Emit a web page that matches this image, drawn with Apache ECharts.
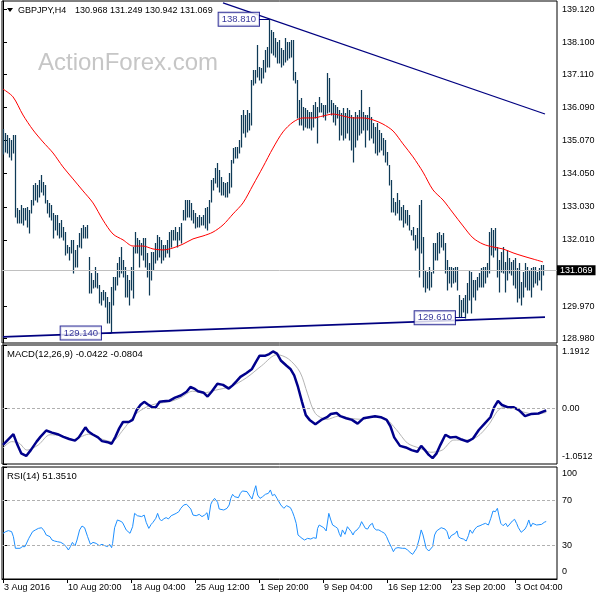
<!DOCTYPE html>
<html><head><meta charset="utf-8">
<script src="https://cdn.jsdelivr.net/npm/echarts@6/dist/echarts.min.js"></script>
<style>html,body{margin:0;padding:0;background:#fff}#c{width:600px;height:600px}</style>
</head><body><div id="c"></div>
<script>
// ---------------- data ----------------
const symbolName = 'GBPJPY,H4';
const lastOHLC = [130.968, 131.249, 130.942, 131.069];
const timeTickIdx = [0, 32, 64, 96, 128, 160, 192, 224, 256];
const timeTickLabels = ['3 Aug 2016', '10 Aug 20:00', '18 Aug 04:00', '25 Aug 12:00', '1 Sep 20:00', '9 Sep 04:00', '16 Sep 12:00', '23 Sep 20:00', '3 Oct 04:00'];
const priceTicks = [139.12, 138.10, 137.11, 136.09, 135.07, 134.05, 133.03, 132.01, 129.97, 128.98];
const currentPrice = 131.069;

const highs = [
135.43,135.31,135.24,135.15,135.09,135.24,135.24,132.99,132.93,133.09,
132.99,132.99,133.02,132.93,133.24,133.70,133.76,133.70,133.86,134.01,
133.80,133.70,133.24,133.15,133.09,132.84,132.78,132.78,132.53,132.62,
132.41,132.25,131.85,131.79,132.01,132.01,131.70,131.85,132.22,132.38,
132.47,132.41,132.47,131.48,130.99,130.77,131.17,130.99,130.62,130.40,
130.46,130.40,130.25,130.09,130.56,130.87,130.87,131.30,131.48,131.79,
131.39,131.17,130.93,130.77,131.17,131.79,132.25,132.07,132.01,131.91,
132.07,132.07,131.61,131.30,131.64,131.64,131.91,132.16,132.10,132.01,
131.85,131.85,132.01,132.25,132.32,132.32,132.41,132.25,132.41,132.53,
132.93,133.24,133.24,133.24,133.15,132.93,132.84,132.72,132.78,132.72,
132.78,132.99,133.02,133.24,133.86,133.92,134.23,134.38,134.17,133.95,
133.80,133.76,133.80,134.07,134.47,134.84,134.87,134.87,135.09,135.86,
136.02,135.86,136.02,135.92,136.94,137.25,137.25,138.02,137.34,137.31,
137.56,137.87,137.96,138.81,138.48,138.42,138.23,138.11,138.17,137.93,
137.87,138.23,138.11,138.11,138.17,138.17,137.19,136.94,136.32,136.39,
136.11,136.08,136.02,135.95,135.95,136.17,136.26,136.11,136.42,136.23,
136.17,136.17,137.16,137.00,136.32,136.23,136.17,136.11,136.02,135.92,
136.08,135.92,136.08,136.02,135.86,135.80,135.95,135.86,136.02,136.63,
135.95,135.86,135.86,136.11,135.80,135.61,135.49,135.61,135.40,135.31,
135.15,135.09,134.72,134.32,133.86,133.30,133.18,133.46,133.24,133.02,
133.09,132.93,132.93,132.78,132.32,132.41,132.16,132.38,133.09,133.24,
132.10,131.08,131.02,131.17,131.02,131.91,131.91,132.22,132.25,132.16,
132.22,131.91,131.39,131.17,131.17,131.14,131.17,131.17,130.31,130.16,
130.22,130.31,130.68,131.08,131.02,130.77,130.77,130.87,130.99,131.14,
131.17,131.17,131.30,132.25,132.38,132.32,132.38,131.79,131.39,131.64,
131.79,131.33,131.70,131.45,131.33,131.39,131.45,131.14,131.30,130.71,
131.02,131.30,131.17,131.08,131.14,131.17,131.17,131.02,131.14,131.24,131.249];

const lows = [
134.66,134.72,134.69,134.57,134.47,134.69,132.72,132.53,132.53,132.53,
132.47,132.62,132.41,132.22,132.84,133.09,133.24,133.18,133.33,133.49,
133.39,133.15,132.84,132.72,132.62,132.07,132.32,132.16,132.07,132.10,
132.01,131.54,131.61,131.39,131.61,130.99,131.17,131.17,131.79,131.76,
132.07,132.07,132.07,130.37,130.37,130.53,130.56,130.53,130.06,130.00,
130.16,129.94,129.45,129.45,129.14,130.00,130.46,130.62,130.87,130.99,
130.87,130.25,130.25,130.00,130.46,130.22,131.61,131.61,131.17,131.54,
131.39,131.17,130.87,130.31,130.77,131.08,131.30,131.39,131.48,131.30,
131.39,131.48,131.61,131.48,131.79,132.01,132.01,131.79,132.01,131.91,
132.62,132.62,132.72,132.72,132.62,132.53,132.38,132.41,132.41,132.47,
132.47,132.38,132.32,132.53,133.18,133.55,133.76,133.64,133.49,133.39,
133.39,133.33,133.33,133.46,133.64,134.38,134.54,134.54,134.69,134.87,
135.31,135.18,135.34,135.40,135.55,136.79,136.85,137.03,136.94,136.85,
137.00,137.19,137.34,137.34,137.77,137.71,137.65,137.46,137.46,137.34,
137.40,137.49,137.56,137.62,137.65,136.94,136.85,135.77,135.55,135.55,
135.40,135.49,135.46,135.46,135.40,135.49,135.77,135.00,135.95,135.95,
135.80,135.71,135.92,135.95,135.86,135.64,135.55,135.77,135.09,135.24,
135.09,135.15,135.31,135.09,134.78,134.41,134.87,135.09,135.24,135.31,
135.40,134.87,135.40,135.09,135.15,135.00,134.69,134.63,134.72,134.78,
134.63,134.41,134.32,133.70,132.87,132.87,132.78,132.84,132.62,132.62,
132.41,132.53,132.47,132.32,132.16,132.01,131.70,131.76,130.87,131.61,
130.56,130.40,130.53,130.46,130.56,130.99,131.39,131.39,131.61,131.79,
131.70,130.99,130.46,130.68,130.56,130.68,130.71,130.46,129.63,129.63,
129.79,129.61,129.76,130.16,129.76,130.25,130.16,130.46,130.56,130.56,
130.56,130.68,130.87,130.99,131.54,131.48,131.70,130.87,130.40,131.02,
130.99,130.40,130.77,130.99,130.93,130.62,130.53,130.09,130.22,130.00,
130.25,130.56,130.46,130.46,130.25,130.56,130.68,130.62,130.77,130.46,130.942];

// moving average, one reading every maStep bars
const maStep = 5;
const maVals = [136.66,136.42,135.86,135.40,135.03,134.69,134.26,133.89,133.52,133.15,
132.62,132.19,132.01,131.82,131.82,131.73,131.70,131.76,131.88,132.04,
132.13,132.25,132.47,132.81,133.15,133.70,134.26,134.84,135.34,135.64,
135.77,135.77,135.83,135.89,135.83,135.77,135.77,135.71,135.58,135.37,
134.97,134.57,134.10,133.55,133.24,132.84,132.44,132.07,131.88,131.79,
131.73,131.61,131.51,131.42,131.33];

const trendHigh = [[110, 139.32], [271, 135.89]];
const trendLow = [[0, 129.02], [271, 129.63]];
const extremes = [[133, 138.81], [54, 129.14], [231, 129.61]];

const macdMain = [[0,-0.69],[2.3,-0.60],[5.2,-0.49],[7.2,-0.69],[9.1,-0.85],[11.6,-0.90],[13.9,-0.79],[16.8,-0.63],[18.7,-0.54],[21.6,-0.42],[24.5,-0.46],[27.3,-0.49],[30.2,-0.54],[33.1,-0.58],[36,-0.61],[37.9,-0.55],[39.8,-0.44],[41.2,-0.36],[42.7,-0.44],[44.7,-0.49],[47.5,-0.55],[49.5,-0.62],[52.3,-0.64],[54.3,-0.67],[56.2,-0.54],[58.1,-0.38],[60,-0.26],[62.9,-0.26],[64.8,-0.22],[66.8,-0.04],[68.7,0.06],[70.6,0.12],[72.5,0.07],[74.5,0.02],[76.4,0.02],[78.3,0.12],[80.2,0.13],[83.1,0.14],[86,0.20],[88.9,0.24],[91.8,0.31],[93.7,0.40],[95.6,0.37],[97.5,0.32],[100.4,0.29],[102.3,0.22],[104.3,0.31],[107.2,0.46],[110,0.44],[112.9,0.37],[114.8,0.43],[116.8,0.51],[118.7,0.59],[121.6,0.66],[124.5,0.74],[126.4,0.87],[128.3,0.99],[131.2,0.99],[133.1,1.02],[135,1.07],[137,1.03],[138.9,0.90],[141.8,0.80],[143.7,0.74],[145.6,0.62],[147.5,0.40],[149.5,0.12],[151.4,-0.13],[153.3,-0.22],[156.2,-0.30],[159.1,-0.22],[162,-0.17],[163.9,-0.11],[166.8,-0.09],[168.7,-0.15],[171.6,-0.19],[174.5,-0.22],[177.3,-0.29],[180.2,-0.19],[183.1,-0.17],[186,-0.15],[188.9,-0.17],[191.8,-0.22],[193.7,-0.34],[195.6,-0.55],[198.5,-0.71],[201.4,-0.74],[204.3,-0.79],[207.2,-0.82],[209.1,-0.71],[211,-0.79],[212.9,-0.88],[214.8,-0.94],[216.8,-0.85],[218.7,-0.69],[221.2,-0.50],[223.5,-0.55],[226.4,-0.54],[229.3,-0.59],[232.2,-0.63],[235,-0.57],[237.9,-0.41],[240.8,-0.29],[243.7,-0.17],[245.6,0.02],[247.5,0.14],[249.5,0.06],[252.3,0.02],[255.2,0.02],[258.1,-0.04],[261,-0.15],[263.9,-0.11],[267.7,-0.10],[271.6,-0.0422]];
const macdSignal = [[0,-0.75],[4.3,-0.63],[8.1,-0.66],[12,-0.79],[17.7,-0.69],[23.5,-0.50],[29.3,-0.52],[35,-0.59],[38.9,-0.54],[42.7,-0.49],[48.5,-0.57],[54.3,-0.63],[60,-0.41],[65.8,-0.13],[71.6,0.02],[77.3,0.09],[83.1,0.12],[88.9,0.20],[94.7,0.32],[100.4,0.29],[106.2,0.34],[113.9,0.41],[121.6,0.57],[129.3,0.80],[137,1.01],[142.7,0.93],[148.5,0.68],[152.3,0.27],[156.2,-0.10],[162,-0.21],[167.7,-0.15],[173.5,-0.19],[179.3,-0.21],[185,-0.17],[190.8,-0.19],[196.6,-0.40],[202.3,-0.66],[208.1,-0.75],[213.9,-0.83],[219.6,-0.79],[225.4,-0.60],[231.2,-0.60],[237,-0.54],[242.7,-0.32],[248.5,-0.01],[254.3,0.02],[260.1,-0.07],[265.8,-0.11],[271.6,-0.0804]];
const macdRange = [-1.0512, 1.1912];
const macdTickTexts = ['1.1912', '0.00', '-1.0512'];
const macdLast = [-0.0422, -0.0804];

const rsi = [[0,40.8],[1.4,42.3],[2.7,43.2],[4.3,42.3],[5.2,37.8],[6.2,27.4],[7.2,25.9],[8.5,27.4],[9.7,28.9],[11,28.9],[12,27.4],[12.9,36.3],[13.9,37.8],[14.8,42.3],[16.2,43.8],[17.7,45.2],[19.3,45.8],[20.6,42.9],[21.6,39.3],[22.5,40.8],[23.5,37.8],[24.5,34.8],[25.8,33.9],[27.3,33.3],[28.9,32.7],[30.2,31.3],[31.6,28.9],[32.7,25.9],[33.7,28.9],[34.7,32.7],[36,29.5],[37,34.8],[38.3,43.8],[39.5,47.3],[40.8,45.8],[42.3,37.8],[43.7,31.0],[45,32.7],[46.6,31.8],[48.1,29.8],[49.5,31.0],[50.8,29.8],[52.3,28.9],[53.3,31.0],[54.3,28.0],[54.8,31.8],[55.8,45.8],[57.2,52.7],[58.5,51.8],[59.7,50.6],[60.4,48.2],[61.6,43.8],[62.5,45.2],[63.5,40.8],[64.8,46.7],[65.8,58.6],[67.2,56.5],[68.1,54.8],[69.3,55.7],[70.6,57.1],[71.6,50.6],[72.9,45.2],[74.1,48.8],[75,50.6],[76.4,54.2],[77.3,58.6],[78.3,53.6],[79.3,51.8],[80.2,53.6],[81.6,54.8],[82.7,53.6],[84.1,56.5],[85,57.7],[86.6,58.6],[87.9,60.1],[88.9,63.1],[90.4,66.1],[91.8,66.7],[92.7,65.5],[93.9,62.5],[95,57.1],[96.6,56.5],[98.1,57.7],[99.5,55.7],[100.8,57.1],[102,59.2],[102.7,52.7],[103.9,66.7],[104.7,69.6],[105.8,72.0],[106.6,72.6],[107.3,68.5],[108.1,62.5],[109.1,63.1],[110.4,61.6],[112,63.1],[113.1,66.1],[113.9,72.0],[114.8,75.6],[115.8,73.5],[116.8,75.0],[117.7,72.6],[118.7,76.5],[119.7,78.6],[120.6,79.5],[122,78.0],[123.1,75.0],[124.5,71.4],[125.4,77.4],[126.4,83.3],[127.3,75.0],[128.5,72.0],[129.8,73.5],[131.2,75.6],[132.7,76.5],[133.7,79.5],[134.7,74.4],[135.8,75.6],[137,72.0],[137.9,73.5],[138.9,66.1],[140.4,63.1],[141.8,65.5],[142.7,66.7],[143.7,63.7],[144.7,60.1],[145.6,55.7],[146.6,49.7],[147.5,39.3],[148.5,40.8],[149.5,36.3],[150.8,34.8],[152.3,36.3],[153.9,35.7],[155.2,36.9],[156.6,36.3],[157.3,45.2],[158.1,48.2],[159.1,47.6],[160.4,45.8],[161.6,42.9],[162.9,58.6],[163.9,52.7],[164.8,48.2],[166.2,46.7],[167.3,45.2],[168.1,40.8],[168.9,37.8],[169.7,43.8],[171,39.9],[172.2,46.7],[173.1,48.2],[174.1,42.3],[175,39.3],[175.8,42.3],[177,43.8],[178.3,46.7],[179.3,51.2],[180.2,49.7],[181.2,45.2],[182.3,44.6],[183.5,48.2],[184.7,49.7],[185.4,45.8],[186.6,43.8],[187.9,43.8],[189.3,42.3],[190.8,40.8],[191.8,37.8],[192.7,33.9],[194.3,28.0],[195.2,24.4],[196.2,27.4],[197.5,28.0],[198.5,28.9],[199.7,27.4],[201,27.4],[202.3,25.9],[203.5,23.8],[204.8,22.0],[205.8,22.0],[206.8,27.4],[208.1,35.7],[209.1,43.8],[210,39.3],[211.6,27.4],[212.9,25.0],[213.9,25.0],[214.8,28.9],[215.8,39.3],[216.8,42.9],[217.7,43.8],[219.1,45.8],[220,46.7],[221,44.6],[222,42.3],[223.1,35.7],[224.1,38.7],[225,37.8],[226.2,40.8],[227,42.9],[227.7,37.8],[228.9,36.3],[230.2,35.7],[231.6,33.9],[232.7,38.7],[233.5,43.8],[234.7,40.8],[235.6,43.8],[237,46.7],[238.5,47.6],[239.9,48.8],[241.2,49.7],[242.7,48.2],[243.9,54.2],[245,60.7],[246.2,60.1],[247.2,63.1],[247.9,57.1],[248.9,49.7],[250,47.6],[251.4,49.7],[252.3,46.7],[253.3,48.2],[254.7,51.8],[255.8,53.3],[256.8,49.7],[257.7,45.8],[259.1,41.7],[260,42.3],[261,44.6],[261.9,47.6],[262.9,52.7],[263.9,46.7],[264.8,49.7],[265.8,50.6],[266.8,48.2],[267.7,49.7],[269.3,48.8],[270.6,50.6],[271.6,51.351]];
const rsiLast = 51.3510;
const rsiTicks = [100, 70, 30, 0];
const rsiLevels = [70, 30];

// ---------------- layout / style ----------------
const FONT = 'Liberation Sans';
const NAVY = '#000080';
const XMIN = -0.5, XMAX = 277;
const grids = [
  { left: 2, top: 1, width: 555, height: 342 },
  { left: 2, top: 345, width: 555, height: 119 },
  { left: 2, top: 467, width: 555, height: 112 }
];
const PMIN = 128.83, PMAX = 139.376;

// labels at the top/bottom edge of a sub-window sit just inside it
function insetPositions(ticks, min, max, hPx, offPx) {
  const span = max - min;
  return ticks.map(t => t >= max - 1e-9 ? t - span * offPx / hPx : (t <= min + 1e-9 ? t + span * offPx / hPx : t));
}
const macdTicks = [macdRange[1], 0, macdRange[0]];
const macdLabelPos = insetPositions(macdTicks, macdRange[0], macdRange[1], grids[1].height, 7);
const rsiLabelPos = insetPositions(rsiTicks, 0, 100, grids[2].height, 7);
function lookup(pos, texts) {
  return v => { const k = pos.findIndex(p => Math.abs(p - v) < 1e-6); return k < 0 ? '' : texts[k]; };
}

const chart = echarts.init(document.getElementById('c'), null, { renderer: 'canvas', width: 600, height: 600 });

const xAxes = [0, 1, 2].map(k => ({
  type: 'value', gridIndex: k, min: XMIN, max: XMAX, show: k === 2,
  axisLine: { show: true, lineStyle: { color: '#000', width: 1 } },
  axisTick: { show: true, customValues: timeTickIdx, length: 4, lineStyle: { color: '#000' } },
  axisLabel: {
    customValues: timeTickIdx, align: 'left', margin: 4, padding: [0, 0, 0, 1],
    fontSize: 9, fontFamily: FONT, color: '#000',
    formatter: v => timeTickLabels[timeTickIdx.indexOf(v)] || ''
  },
  splitLine: { show: false }
}));

const yCommon = {
  type: 'value', position: 'right',
  axisLine: { show: true, lineStyle: { color: '#000', width: 1 } },
  splitLine: { show: false }
};
const yAxes = [
  Object.assign({}, yCommon, {
    gridIndex: 0, min: PMIN, max: PMAX,
    axisTick: { show: true, customValues: priceTicks, length: 4, lineStyle: { color: '#000' } },
    axisLabel: { customValues: priceTicks, formatter: v => v.toFixed(3), margin: 5, fontSize: 9, fontFamily: FONT, color: '#000' }
  }),
  Object.assign({}, yCommon, {
    gridIndex: 1, min: macdRange[0], max: macdRange[1],
    axisTick: { show: true, customValues: macdTicks, length: 4, lineStyle: { color: '#000' } },
    axisLabel: { customValues: macdLabelPos, formatter: lookup(macdLabelPos, macdTickTexts), margin: 5, fontSize: 9, fontFamily: FONT, color: '#000' }
  }),
  Object.assign({}, yCommon, {
    gridIndex: 2, min: 0, max: 100,
    axisTick: { show: true, customValues: rsiTicks, length: 4, lineStyle: { color: '#000' } },
    axisLabel: { customValues: rsiLabelPos, formatter: lookup(rsiLabelPos, rsiTicks.map(String)), margin: 5, fontSize: 9, fontFamily: FONT, color: '#000' }
  })
];

const barData = highs.map((h, i) => [i, lows[i], h]);
const maData = maVals.map((v, k) => [k * maStep, v]);
const dashed = { color: '#b0b0b0', type: [3, 2], width: 1 };

const series = [
  // current price line
  {
    type: 'line', xAxisIndex: 0, yAxisIndex: 0, data: [], silent: true, z: 1,
    markLine: {
      silent: true, symbol: 'none', animation: false,
      lineStyle: { color: '#c0c0c0', type: 'solid', width: 1 },
      label: { show: true, position: 'end', distance: 0, formatter: () => currentPrice.toFixed(3),
        backgroundColor: '#000', color: '#fff', padding: [1, 3, 0, 3], fontSize: 9, fontFamily: FONT },
      data: [{ yAxis: currentPrice }]
    }
  },
  // price bars (high-low), snapped to whole pixels
  {
    type: 'custom', xAxisIndex: 0, yAxisIndex: 0, data: barData, silent: true, z: 3,
    encode: { x: 0, y: [1, 2] },
    renderItem: (params, api) => {
      const lo = api.coord([api.value(0), api.value(1)]);
      const hi = api.coord([api.value(0), api.value(2)]);
      const x = Math.floor(lo[0]) + 0.5;
      return { type: 'line', shape: { x1: x, y1: Math.round(lo[1]) + 0.5, x2: x, y2: Math.round(hi[1]) },
        style: { stroke: '#0f3a57', lineWidth: 1.25 } };
    }
  },
  // moving average
  { type: 'line', xAxisIndex: 0, yAxisIndex: 0, data: maData, showSymbol: false, symbol: 'none', smooth: 0.3,
    lineStyle: { color: '#ff0000', width: 1 }, silent: true, z: 4 },
  // trend lines
  { type: 'line', xAxisIndex: 0, yAxisIndex: 0, data: trendHigh, symbol: 'none', lineStyle: { color: NAVY, width: 1.2 }, silent: true, z: 5 },
  { type: 'line', xAxisIndex: 0, yAxisIndex: 0, data: trendLow, symbol: 'none', lineStyle: { color: NAVY, width: 1.8 }, silent: true, z: 5 },
  // extreme price labels
  {
    type: 'scatter', xAxisIndex: 0, yAxisIndex: 0, data: extremes, symbolSize: 0, silent: true, z: 6,
    label: { show: true, position: 'left', distance: 10, formatter: p => p.value[1].toFixed(3),
      color: NAVY, backgroundColor: '#fff', borderColor: NAVY, borderWidth: 1, padding: [2, 3, 1, 3],
      fontSize: 9.5, fontFamily: FONT },
    markLine: {
      silent: true, symbol: 'none', animation: false, label: { show: false },
      lineStyle: { color: NAVY, type: 'solid', width: 1 },
      data: extremes.map(e => [{ coord: [e[0] - 5, e[1]] }, { coord: [e[0], e[1]] }])
    }
  },
  // MACD
  { type: 'line', xAxisIndex: 1, yAxisIndex: 1, data: macdSignal, symbol: 'none', smooth: 0.3,
    lineStyle: { color: '#b4b4b4', width: 1 }, silent: true, z: 3,
    markLine: { silent: true, symbol: 'none', animation: false, label: { show: false }, lineStyle: dashed, data: [{ yAxis: 0 }] } },
  { type: 'line', xAxisIndex: 1, yAxisIndex: 1, data: macdMain, symbol: 'none',
    lineStyle: { color: '#00008b', width: 2.5 }, silent: true, z: 4 },
  // RSI
  { type: 'line', xAxisIndex: 2, yAxisIndex: 2, data: rsi, symbol: 'none',
    lineStyle: { color: '#1e90ff', width: 1 }, silent: true, z: 4,
    markLine: { silent: true, symbol: 'none', animation: false, label: { show: false }, lineStyle: dashed,
      data: rsiLevels.map(v => ({ yAxis: v })) } }
];

const txt = (x, y, text, size, extra) => ({
  type: 'text', x, y, silent: true, z: 10,
  style: Object.assign({ text, fontSize: size, fontFamily: FONT, fill: '#000', verticalAlign: 'middle', align: 'left' }, extra || {})
});

const graphic = [
  { type: 'text', x: 38, y: 63, z: 0, silent: true,
    style: { text: 'ActionForex.com', fontSize: 24, fontFamily: FONT, fill: '#c6c6c6', verticalAlign: 'middle', align: 'left' } },
  { type: 'polygon', z: 10, silent: true, shape: { points: [[7, 8], [13, 8], [10, 12]] }, style: { fill: '#000' } },
  txt(18, 11, symbolName, 9),
  txt(75, 11, lastOHLC.map(v => v.toFixed(3)).join(' '), 9),
  txt(7, 354, 'MACD(12,26,9) ' + macdLast.map(v => v.toFixed(4)).join(' '), 9.5),
  txt(7, 476, 'RSI(14) ' + rsiLast.toFixed(4), 9.5)
];

chart.setOption({
  animation: false,
  backgroundColor: '#fff',
  grid: grids.map(g => Object.assign({ show: true, borderColor: '#000', borderWidth: 1, containLabel: false }, g)),
  xAxis: xAxes,
  yAxis: yAxes,
  series,
  graphic
});
</script></body></html>
